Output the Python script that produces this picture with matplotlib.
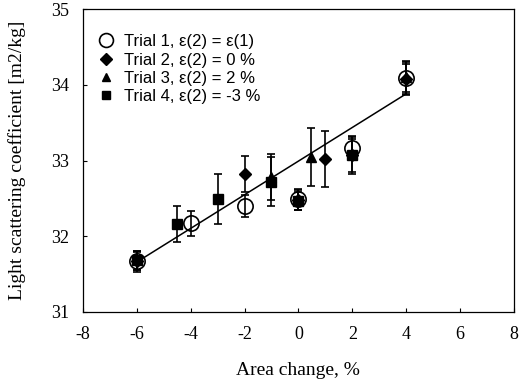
import matplotlib
matplotlib.use("Agg")
import matplotlib.pyplot as plt
from matplotlib.lines import Line2D

plt.rcParams["axes.unicode_minus"] = False

# Data
t1_x = [-6, -4, -2, 0, 2, 4]
t1_y = [31.67, 32.17, 32.40, 32.49, 33.16, 34.09]
t1_err = [0.14, 0.17, 0.15, 0.14, 0.15, 0.22]

t2_x = [-6, -2, 0, 1.0, 2, 4]
t2_y = [31.67, 32.82, 32.48, 33.02, 33.07, 34.08]
t2_err = [0.12, 0.24, 0.13, 0.37, 0.25, 0.20]

t3_x = [-1.0, 0.45, 4]
t3_y = [32.78, 33.05, 34.10]
t3_err = [0.30, 0.38, 0.20]

t4_x = [-6, -4.5, -3.0, -1.0, 0, 2]
t4_y = [31.68, 32.16, 32.49, 32.72, 32.47, 33.07]
t4_err = [0.12, 0.24, 0.33, 0.32, 0.12, 0.22]

fit_x = [-6, 4]
fit_y = [31.66, 33.88]

labels = ["Trial 1, \u03b5(2) = \u03b5(1)", "Trial 2, \u03b5(2) = 0 %",
          "Trial 3, \u03b5(2) = 2 %", "Trial 4, \u03b5(2) = -3 %"]
xticks = [-8, -6, -4, -2, 0, 2, 4, 6, 8]
yticks = [31, 32, 33, 34, 35]

fig = plt.figure(figsize=(5.27, 3.84), dpi=100)
ax = fig.add_axes([0.1575, 0.1875, 0.8175, 0.789])

ax.plot(fit_x, fit_y, color="black", lw=1.1, zorder=2)

ekw = dict(color="black", ecolor="black", elinewidth=1.2, capsize=3, capthick=1.2, ls="none", zorder=3)
ax.errorbar(t4_x, t4_y, yerr=t4_err, marker="s", ms=6.5, mfc="black", mec="black", **ekw)
ax.errorbar(t3_x, t3_y, yerr=t3_err, marker="^", ms=7.5, mfc="black", mec="black", **ekw)
ax.errorbar(t2_x, t2_y, yerr=t2_err, marker="D", ms=6.5, mfc="black", mec="black", **ekw)
ax.errorbar(t1_x, t1_y, yerr=t1_err, marker="o", ms=11, mfc="none", mec="black", mew=1.2, **ekw)

ax.set_xlim(-8, 8)
ax.set_ylim(31, 35)
ax.set_xticks(xticks)
ax.set_yticks(yticks)
ax.tick_params(direction="in", length=3, width=0.8, top=False, right=False, pad=10)
for lab in ax.get_xticklabels() + ax.get_yticklabels():
    lab.set_fontfamily("Liberation Serif")
    lab.set_fontsize(13)
for sp in ax.spines.values():
    sp.set_linewidth(0.9)

ax.set_xlabel("Area change, %", fontfamily="Liberation Serif", fontsize=14, labelpad=14)
ax.set_ylabel("Light scattering coefficient [m2/kg]", fontfamily="Liberation Serif", fontsize=14, labelpad=18)

handles = [
    Line2D([], [], marker="o", ms=10, mfc="none", mec="black", mew=1.2, ls="none"),
    Line2D([], [], marker="D", ms=6, mfc="black", mec="black", ls="none"),
    Line2D([], [], marker="^", ms=6, mfc="black", mec="black", ls="none"),
    Line2D([], [], marker="s", ms=5.5, mfc="black", mec="black", ls="none"),
]
leg = ax.legend(handles, labels, loc="upper left", bbox_to_anchor=(0.01, 0.95), frameon=False,
                prop={"family": "Liberation Sans", "size": 12}, handlelength=1.0,
                handletextpad=0.6, labelspacing=0.2, borderaxespad=0.2)

fig.savefig("out.png", dpi=100)
